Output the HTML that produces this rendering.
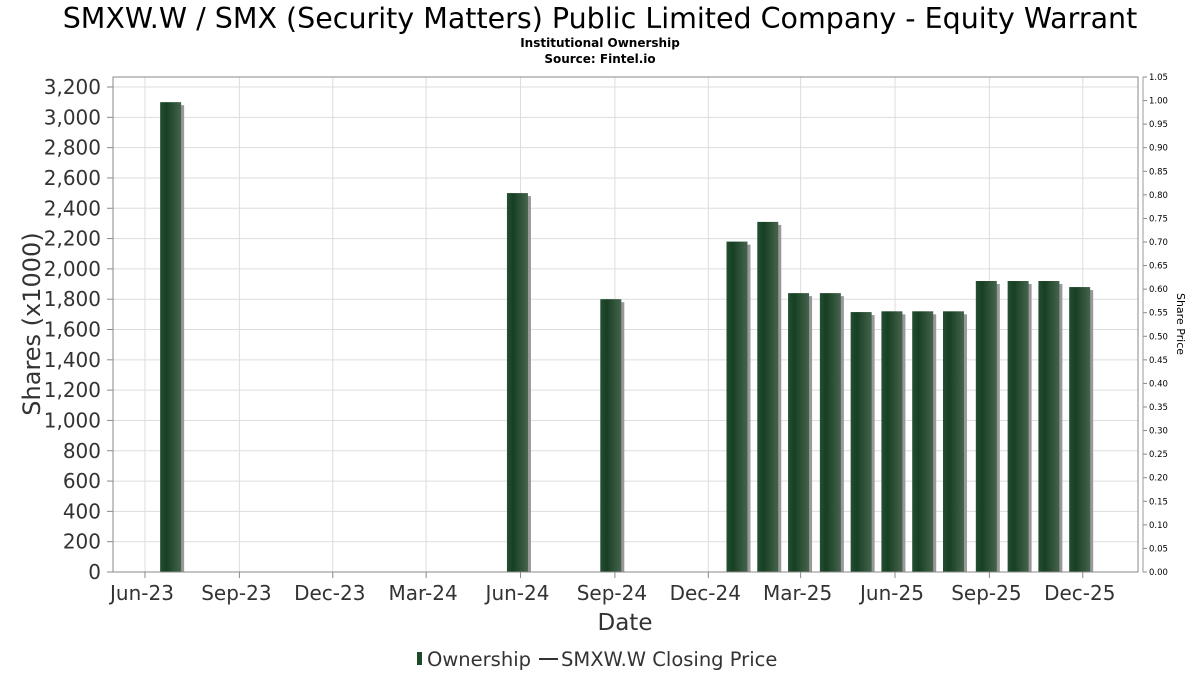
<!DOCTYPE html>
<html><head><meta charset="utf-8"><style>
body{margin:0;background:#fff;font-family:"DejaVu Sans","Liberation Sans",sans-serif}
svg text{font-family:"DejaVu Sans","Liberation Sans",sans-serif}
</style></head><body>
<svg id="c" width="1200" height="675" xmlns="http://www.w3.org/2000/svg">
<defs>
<linearGradient id="g" x1="0" x2="1" y1="0" y2="0">
<stop offset="0" stop-color="#244f31"/><stop offset="0.3" stop-color="#173f23"/><stop offset="1" stop-color="#46644d"/>
</linearGradient>
</defs>
<text x="600" y="28" font-size="28.5" text-anchor="middle" fill="#000">SMXW.W / SMX (Security Matters) Public Limited Company - Equity Warrant</text>
<text x="600" y="47" font-size="12" font-weight="bold" text-anchor="middle">Institutional Ownership</text>
<text x="600" y="63" font-size="12" font-weight="bold" text-anchor="middle">Source: Fintel.io</text>
<g id="grid"></g><g id="bars"></g><g id="axes"></g>
<text x="625" y="630" font-size="23" fill="#333" text-anchor="middle">Date</text>
<text transform="translate(40,324) rotate(-90)" font-size="24" fill="#333" text-anchor="middle">Shares (x1000)</text>
<text transform="translate(1177,324) rotate(90)" font-size="11" fill="#000" text-anchor="middle">Share Price</text>
<g>
<rect x="417" y="652" width="5" height="13" fill="#1e4a2a"/>
<text x="427" y="666" font-size="19.5" fill="#333">Ownership</text>
<line x1="539" y1="659" x2="558" y2="659" stroke="#333" stroke-width="2"/>
<text x="561" y="666" font-size="19.5" fill="#333">SMXW.W Closing Price</text>
</g>
</svg>
<script>
const dates=["2023-06-26","2024-05-29","2024-08-28","2024-12-29","2025-01-28","2025-02-27","2025-03-30","2025-04-29","2025-05-29","2025-06-28","2025-07-28","2025-08-29","2025-09-29","2025-10-29","2025-11-28"];
const shares=[3100,2500,1800,2180,2310,1840,1840,1715,1720,1720,1720,1920,1920,1920,1880];
const yTicks=[0,200,400,600,800,1000,1200,1400,1600,1800,2000,2200,2400,2600,2800,3000,3200];
const xTickDates=["2023-06-01","2023-09-01","2023-12-01","2024-03-01","2024-06-01","2024-09-01","2024-12-01","2025-03-01","2025-06-01","2025-09-01","2025-12-01"];
const xTickLabels=["Jun-23","Sep-23","Dec-23","Mar-24","Jun-24","Sep-24","Dec-24","Mar-25","Jun-25","Sep-25","Dec-25"];
const priceTicks=["0.00","0.05","0.10","0.15","0.20","0.25","0.30","0.35","0.40","0.45","0.50","0.55","0.60","0.65","0.70","0.75","0.80","0.85","0.90","0.95","1.00","1.05"];
const NS="http://www.w3.org/2000/svg";
const L=113,R=1138,T=77,B=572;
const t0=Date.parse("2023-06-01");
function x(d){return 145+(Date.parse(d)-t0)/86400000*1.026;}
function y(v){return B-v/3200*(B-87);}
function yp(p){return B-p/1.05*(B-T);}
function mk(tag,attrs,parent){const e=document.createElementNS(NS,tag);for(const k in attrs)e.setAttribute(k,attrs[k]);parent.appendChild(e);return e;}
const grid=document.getElementById('grid'),bars=document.getElementById('bars'),axes=document.getElementById('axes');
mk('rect',{x:L,y:T,width:R-L,height:B-T,fill:'#fff',stroke:'none'},grid);
yTicks.forEach(v=>{
 mk('line',{x1:L,x2:R,y1:y(v),y2:y(v),stroke:'#ddd'},grid);
 const t=mk('text',{x:101,y:y(v)+7,'font-size':20,fill:'#333','text-anchor':'end'},axes);
 t.textContent=v.toLocaleString('en-US');
 
 
 mk('line',{x1:107,x2:113,y1:y(v),y2:y(v),stroke:'#888'},axes);
});
xTickDates.forEach((d,i)=>{
 const xx=x(d);
 mk('line',{x1:xx,x2:xx,y1:T,y2:B,stroke:'#ddd'},grid);
 mk('line',{x1:xx,x2:xx,y1:B,y2:B+6,stroke:'#888'},axes);
 const t=mk('text',{x:xx-3,y:600,'font-size':20,fill:'#333','text-anchor':'middle'},axes);
 t.textContent=xTickLabels[i];
 
 
});
priceTicks.forEach(p=>{
 const yy=yp(+p);
 mk('line',{x1:1143,x2:1147,y1:yy,y2:yy,stroke:'#888'},axes);
 const t=mk('text',{x:1149,y:yy+3,'font-size':8.5,fill:'#000'},axes);
 t.textContent=p;
 
 
});
mk('line',{x1:1143,x2:1143,y1:T,y2:B,stroke:'#999'},axes);
mk('rect',{x:L,y:T,width:R-L,height:B-T,fill:'none',stroke:'#888'},axes);
const bw=21;
dates.forEach((d,i)=>{
 const cx=x(d),top=y(shares[i]);
 const s=mk('rect',{x:cx-bw/2+3,y:top+3,width:bw,height:B-top-3,fill:'#999'},bars);
 
 
 const r=mk('rect',{x:cx-bw/2,y:top,width:bw,height:B-top,fill:'url(#g)'},bars);
 
 
});
</script>
</body></html>
